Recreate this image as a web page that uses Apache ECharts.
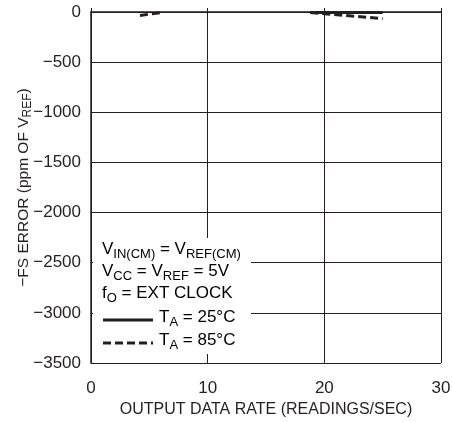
<!DOCTYPE html>
<html style="height: 100%">
<head>
  <meta charset="utf-8">
</head>
<body style="height: 100%; margin: 0; background: #fff">
  <div id="container" style="width: 452px; height: 422px"></div>
  <script src="https://cdn.jsdelivr.net/npm/echarts@6/dist/echarts.min.js"></script>
  <script>
    // data
    var rate25a = [[18.8, -5], [25, -5]];
    var rate85a = [[4.2, -35], [6.0, -5]];
    var rate85b = [[18.8, -5], [25, -65]];
    var xTicks = [0, 10, 20, 30];

    var font = '"Liberation Sans", Arial, sans-serif';
    var ink = '#231f20';

    var myChart = echarts.init(document.getElementById('container'), null, { renderer: 'canvas' });

    // normal text + subscript pieces for rich text
    function richStyle(size, lh, subSize, drop) {
      return {
        n: { fontFamily: font, fontSize: size, color: ink, lineHeight: lh, verticalAlign: 'top' },
        sub: { fontFamily: font, fontSize: subSize, color: ink, lineHeight: lh - drop, padding: [drop, 0, 0, 0], verticalAlign: 'top' }
      };
    }

    var option = {
      animation: false,
      backgroundColor: '#fff',
      grid: { left: 91, right: 11, top: 12, bottom: 59, outerBoundsMode: 'none', containLabel: false },
      xAxis: {
        type: 'value',
        min: 0, max: 30, interval: 10,
        name: 'OUTPUT DATA RATE (READINGS/SEC)',
        nameLocation: 'middle',
        nameGap: 39,
        nameMoveOverlap: false,
        nameTextStyle: { fontFamily: font, fontSize: 16, color: ink },
        axisLine: { show: true, lineStyle: { color: ink, width: 1.5 } },
        axisTick: { show: true, inside: true, length: 4, lineStyle: { color: ink } },
        axisLabel: { fontFamily: font, fontSize: 17, color: ink, margin: 17 },
        splitLine: { show: true, lineStyle: { color: ink, width: 1 } }
      },
      yAxis: {
        type: 'value',
        min: -3500, max: 0, interval: 500,
        name: '{n|−FS ERROR (ppm OF V}{sub|REF}{n|)}',
        nameLocation: 'middle',
        nameGap: 55,
        nameMoveOverlap: false,
        nameRotate: 90,
        nameTextStyle: { rich: richStyle(15.5, 20, 12, 6) },
        axisLine: { show: true, lineStyle: { color: ink, width: 1.5 } },
        axisTick: { show: true, inside: true, length: 4, lineStyle: { color: ink } },
        axisLabel: {
          fontFamily: font, fontSize: 17, color: ink, margin: 10,
          formatter: function (v) { return String(v).replace('-', '−'); }
        },
        splitLine: { show: true, lineStyle: { color: ink, width: 1 } }
      },
      series: [
        {
          name: 'TA = 25°C', type: 'line', data: rate25a, showSymbol: false,
          lineStyle: { color: ink, width: 3 }
        },
        {
          name: 'TA = 85°C', type: 'line', data: rate85a, showSymbol: false,
          lineStyle: { color: ink, width: 3, type: [8, 4] }
        },
        {
          name: 'TA = 85°C b', type: 'line', data: rate85b, showSymbol: false,
          lineStyle: { color: ink, width: 3, type: [8, 4] }
        }
      ],
      graphic: [
        { type: 'rect', left: 93, top: 238, shape: { width: 158, height: 116 }, style: { fill: '#fff' }, z: 10 },
        {
          type: 'text', left: 102, top: 241, z: 11,
          style: {
            text: '{n|V}{sub|IN(CM)}{n| = V}{sub|REF(CM)}\n{n|V}{sub|CC}{n| = V}{sub|REF}{n| = 5V}\n{n|f}{sub|O}{n| = EXT CLOCK}',
            rich: richStyle(17, 22, 13, 7)
          }
        },
        {
          type: 'line', z: 11,
          shape: { x1: 103, y1: 320, x2: 153, y2: 320 },
          style: { stroke: ink, lineWidth: 3 }
        },
        {
          type: 'line', z: 11,
          shape: { x1: 103, y1: 343, x2: 153, y2: 343 },
          style: { stroke: ink, lineWidth: 3, lineDash: [8, 4] }
        },
        {
          type: 'text', left: 159, top: 309, z: 11,
          style: {
            text: '{n|T}{sub|A}{n| = 25°C}\n{n|T}{sub|A}{n| = 85°C}',
            rich: richStyle(17, 23, 13, 7)
          }
        }
      ]
    };

    myChart.setOption(option);
    window.addEventListener('resize', myChart.resize);
  </script>
</body>
</html>
